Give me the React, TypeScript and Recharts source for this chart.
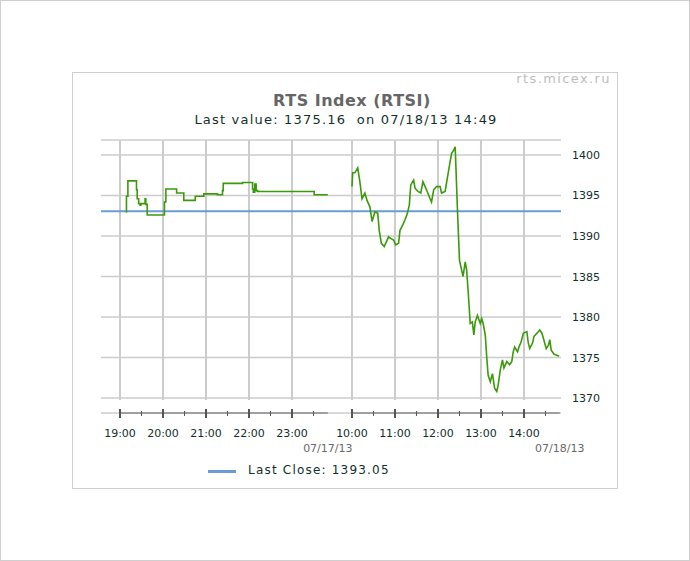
import React from 'react';
import { ComposedChart, Line, XAxis, YAxis, CartesianGrid, ReferenceLine } from 'recharts';

// evening session 07/17/13 (minute quotes, only where the value changes)
const eveningTimes = [
  '19:08', '19:09', '19:11', '19:23', '19:24', '19:26', '19:28', '19:29', '19:35', '19:36',
  '19:38', '20:02', '20:04', '20:19', '20:29', '20:45', '20:57', '21:16', '21:23', '21:24',
  '21:51', '22:05', '22:06', '22:08', '22:10', '22:12', '23:31', '23:50',
];
const eveningValues = [
  1393.0, 1394.9, 1396.8, 1395.7, 1394.6, 1394.0, 1393.8, 1394.0, 1394.6, 1393.9,
  1392.6, 1394.2, 1395.8, 1395.3, 1394.4, 1394.9, 1395.2, 1395.1, 1395.6, 1396.5,
  1396.6, 1395.8, 1395.4, 1396.4, 1395.6, 1395.5, 1395.1, 1395.1,
];

// main session 07/18/13
const dayTimes = [
  '10:00', '10:01', '10:04', '10:08', '10:11', '10:14', '10:18', '10:21', '10:25', '10:28',
  '10:32', '10:36', '10:38', '10:41', '10:45', '10:51', '10:54', '10:58', '11:01', '11:05',
  '11:07', '11:11', '11:14', '11:17', '11:20', '11:22', '11:26', '11:28', '11:32', '11:36',
  '11:39', '11:44', '11:49', '11:51', '11:54', '11:58', '12:03', '12:05', '12:10', '12:13',
  '12:17', '12:19', '12:22', '12:24', '12:25', '12:27', '12:30', '12:33', '12:35', '12:38',
  '12:40', '12:42', '12:45', '12:48', '12:50', '12:52', '12:55', '12:59', '13:01', '13:03',
  '13:06', '13:08', '13:10', '13:13', '13:16', '13:19', '13:22', '13:24', '13:27', '13:30',
  '13:32', '13:36', '13:40', '13:43', '13:45', '13:47', '13:51', '13:53', '13:56', '13:59',
  '14:04', '14:06', '14:08', '14:12', '14:14', '14:18', '14:22', '14:25', '14:27', '14:31',
  '14:34', '14:36', '14:38', '14:42', '14:45', '14:49',
];
const dayValues = [
  1396.1, 1397.8, 1397.8, 1398.4, 1396.7, 1394.6, 1395.3, 1394.4, 1393.6, 1391.8,
  1393.0, 1392.8, 1390.7, 1389.1, 1388.7, 1389.9, 1389.7, 1389.5, 1388.9, 1389.1,
  1390.7, 1391.4, 1392.0, 1392.7, 1393.8, 1396.3, 1396.9, 1395.9, 1395.5, 1395.3,
  1396.7, 1395.7, 1394.6, 1394.2, 1395.7, 1396.1, 1396.1, 1395.3, 1395.5, 1397.1,
  1399.2, 1400.2, 1400.6, 1401.0, 1398.6, 1393.6, 1387.0, 1385.8, 1385.0, 1386.8,
  1385.8, 1383.3, 1379.2, 1379.4, 1377.8, 1379.4, 1380.2, 1379.2, 1379.8, 1379.2,
  1377.8, 1375.1, 1372.8, 1372.0, 1373.0, 1371.2, 1370.8, 1371.6, 1373.5, 1374.7,
  1373.7, 1374.5, 1374.1, 1374.5, 1375.7, 1376.3, 1375.7, 1376.3, 1376.9, 1378.0,
  1378.2, 1376.8, 1376.1, 1376.8, 1377.6, 1378.0, 1378.4, 1378.0, 1377.4, 1376.1,
  1376.5, 1377.2, 1375.9, 1375.4, 1375.3, 1375.16,
];

const eveningHours = ['19:00', '20:00', '21:00', '22:00', '23:00'];
const dayHours = ['10:00', '11:00', '12:00', '13:00', '14:00'];
const sessionEnds = ['23:50', '14:50'];
const sessionDates = ['07/17/13', '07/18/13'];
const yTicks = [1370, 1375, 1380, 1385, 1390, 1395, 1400];
const lastClose = 1393.05;
const lastValue = '1375.16';
const lastStamp = '07/18/13 14:49';

const FONT = '"DejaVu Sans", Verdana, sans-serif';
const EVENING_START = 19;
const DAY_START = 10;
const DAY_OFFSET = 5.395; // where 10:00 sits on the axis (hours after 19:00, gap squeezed)
const X_DOMAIN: [number, number] = [-0.442, 10.256];
const Y_DOMAIN: [number, number] = [1368.15, 1401.85];
const GRID_BOTTOM = 1369.75;

const hrs = (t: string) => {
  const [h, m] = t.split(':').map(Number);
  return h + m / 60;
};
const eveningX = (t: string) => hrs(t) - EVENING_START;
const dayX = (t: string) => hrs(t) - DAY_START + DAY_OFFSET;

const eveningData = eveningTimes.map((t, i) => ({ x: eveningX(t), v: eveningValues[i] }));
const dayData = dayTimes.map((t, i) => ({ x: dayX(t), v: dayValues[i] }));

type TickInfo = { x: number; major?: boolean; label?: string; date?: string };
const tickInfo: TickInfo[] = [
  ...eveningHours.flatMap((t) => [
    { x: eveningX(t), major: true, label: t },
    { x: eveningX(t) + 0.5 },
  ]),
  ...dayHours.flatMap((t) => [
    { x: dayX(t), major: true, label: t },
    { x: dayX(t) + 0.5 },
  ]),
  { x: eveningX(sessionEnds[0]), date: sessionDates[0] },
  { x: dayX(sessionEnds[1]), date: sessionDates[1] },
];
const gridXs = [...eveningHours.map(eveningX), ...dayHours.map(dayX)];
const axisSegments = [
  [eveningX(eveningHours[0]), eveningX(sessionEnds[0])],
  [dayX(dayHours[0]), dayX(sessionEnds[1])],
];

const XTick = (props: any) => {
  const { x, y, payload } = props;
  const info = tickInfo.find((t) => Math.abs(t.x - payload.value) < 1e-6);
  if (!info) return null;
  if (info.date) {
    return (
      <text x={x} y={y + 39} textAnchor="middle" fill="#6a6a6a" fontSize={11} fontFamily={FONT}>
        {info.date}
      </text>
    );
  }
  return (
    <g>
      <line
        x1={x}
        x2={x}
        y1={info.major ? y - 4 : y - 2}
        y2={info.major ? y + 5 : y + 3}
        stroke="#555"
        strokeWidth={info.major ? 2 : 1}
      />
      {info.label && (
        <text x={x} y={y + 24} textAnchor="middle" fill="#12302a" fontSize={11} fontFamily={FONT}>
          {info.label}
        </text>
      )}
    </g>
  );
};

const YTick = (props: any) => {
  const { x, y, payload } = props;
  return (
    <text x={x + 11} y={y + 4} textAnchor="start" fill="#12302a" fontSize={11} fontFamily={FONT}>
      {payload.value}
    </text>
  );
};

export default function App() {
  return (
    <div style={{ position: 'absolute', left: 0, top: 0, width: 690, height: 561, background: '#fff', fontFamily: FONT }}>
      <div style={{ position: 'absolute', left: 0, top: 0, width: 688, height: 559, border: '1px solid #cfcfcf' }} />
      <div style={{ position: 'absolute', left: 72, top: 72, width: 544, height: 415, border: '1px solid #cfcfcf' }} />
      <div style={{ position: 'absolute', left: 72, top: 72 }}>
        <ComposedChart
          width={690 - 72}
          height={561 - 72}
          margin={{ top: 140 - 72, right: 0, bottom: 0, left: 101 - 72 }}
        >
          <CartesianGrid horizontal vertical={false} stroke="#cccccc" strokeWidth={1.5} />
          <XAxis
            dataKey="x"
            type="number"
            domain={X_DOMAIN}
            ticks={tickInfo.map((t) => t.x)}
            interval={0}
            allowDataOverflow
            axisLine={false}
            tickLine={false}
            tickSize={0}
            tickMargin={0}
            height={561 - 413}
            tick={<XTick />}
          />
          <YAxis
            orientation="right"
            type="number"
            domain={Y_DOMAIN}
            ticks={yTicks}
            interval={0}
            allowDataOverflow
            axisLine={false}
            tickLine={false}
            tickSize={0}
            tickMargin={0}
            width={690 - 561}
            tick={<YTick />}
          />
          {gridXs.map((gx) => (
            <ReferenceLine
              key={gx}
              ifOverflow="visible"
              segment={[{ x: gx, y: GRID_BOTTOM }, { x: gx, y: Y_DOMAIN[1] }]}
              stroke="#cccccc"
              strokeWidth={2}
            />
          ))}
          {axisSegments.map(([a, b]) => (
            <ReferenceLine
              key={a}
              ifOverflow="visible"
              segment={[{ x: a, y: Y_DOMAIN[0] }, { x: b, y: Y_DOMAIN[0] }]}
              stroke="#666"
              strokeWidth={1}
            />
          ))}
          <ReferenceLine y={lastClose} stroke="#6b9bd6" strokeWidth={2} />
          <Line
            data={eveningData}
            dataKey="v"
            type="stepAfter"
            stroke="#3a9a0a"
            strokeWidth={1.6}
            dot={false}
            activeDot={false}
            isAnimationActive={false}
          />
          <Line
            data={dayData}
            dataKey="v"
            type="linear"
            stroke="#3a9a0a"
            strokeWidth={1.6}
            dot={false}
            activeDot={false}
            isAnimationActive={false}
          />
        </ComposedChart>
      </div>
      <div style={{ position: 'absolute', right: 79, top: 71, fontSize: 13, letterSpacing: 1.4, color: '#bdbdbd' }}>
        rts.micex.ru
      </div>
      <div style={{ position: 'absolute', left: 0, width: 704, top: 91, textAlign: 'center', fontSize: 16, fontWeight: 'bold', letterSpacing: 0.5, color: '#666' }}>
        RTS Index (RTSI)
      </div>
      <div style={{ position: 'absolute', left: 0, width: 692, top: 112, textAlign: 'center', fontSize: 13, letterSpacing: 1.2, color: '#12302a', whiteSpace: 'pre' }}>
        {`Last value: ${lastValue}  on ${lastStamp}`}
      </div>
      <div style={{ position: 'absolute', left: 208, top: 470, width: 28, height: 3, background: '#6b9bd6' }} />
      <div style={{ position: 'absolute', left: 248, top: 463, fontSize: 12, letterSpacing: 1.2, color: '#12302a' }}>
        {`Last Close: ${lastClose.toFixed(2)}`}
      </div>
    </div>
  );
}
